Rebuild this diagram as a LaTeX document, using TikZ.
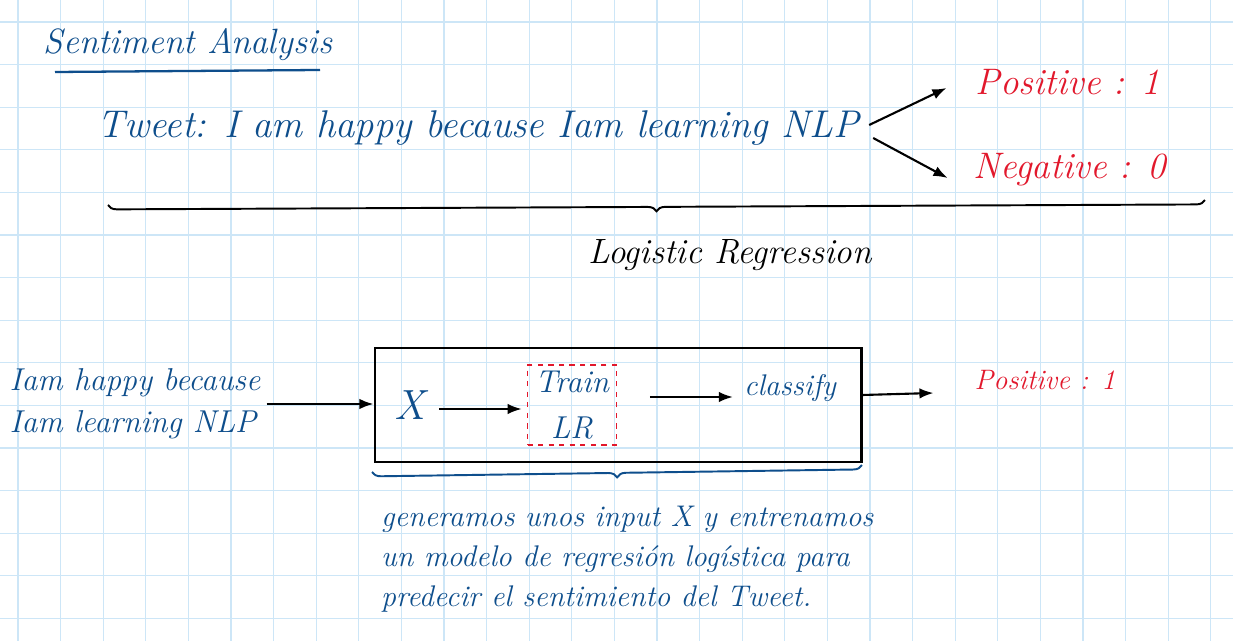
\documentclass[tikz,border=0pt]{standalone}
\usepackage{fontspec}
\usepackage{tikz}
\usetikzlibrary{arrows.meta, positioning, decorations.pathreplacing}
\definecolor{inkblue}{RGB}{14,78,140}
\definecolor{inkred}{RGB}{226,24,44}
\definecolor{gridblue}{RGB}{205,230,247}
\tikzset{>={Latex[length=8pt,width=6pt]}}
\tikzset{
  hand/.style n args={2}{font=\fontsize{#1}{#2}\selectfont\itshape},
  blueink/.style={text=inkblue},
  redink/.style={text=inkred},
  pen/.style={line width=1.2pt, black},
  flow/.style={pen, ->},
  curly/.style={decorate, decoration={brace, mirror, amplitude=#1}, line width=1.1pt},
}

\begin{document}
\begin{tikzpicture}[x=0.02cm, y=-0.02cm]
  % squared paper
  \fill[white] (0,0) rectangle (1233,641);
  \useasboundingbox (0,0) rectangle (1233,641);
  \foreach \k in {0,...,28}
    \draw[gridblue, line width=0.6pt] ({18+42.6*\k},0) -- ({18+42.6*\k},641);
  \foreach \k in {0,...,14}
    \draw[gridblue, line width=0.6pt] (0,{22+42.6*\k}) -- (1233,{22+42.6*\k});

  % the task
  \node[blueink, hand={20}{24}] (title) at (188,45) {Sentiment Analysis};
  \draw[inkblue, line width=1.3pt] (55,72) -- (320,70);
  \node[blueink, hand={22}{26}] (tweet) at (478,128) {Tweet: I am happy because Iam learning NLP};
  \node[redink, hand={21}{25}] (pos) at (1068,82) {Positive : 1};
  \node[redink, hand={21}{25}] (neg) at (1070,170) {Negative : 0};
  \draw[flow] ([shift={(4,-3)}]tweet.east) -- ([shift={(-23,6)}]pos.west);
  \draw[flow] ([shift={(8,10)}]tweet.east) -- ([shift={(-20,8)}]neg.west);
  \draw[curly=5pt] (108,205) -- (1205,200);
  \node[hand={20}{24}] (method) at (730,255) {Logistic Regression};

  % the model
  \node[blueink, hand={18}{24}, align=left] (input) at (135,404) {Iam happy because\\Iam learning NLP};
  \node[draw, pen, minimum width=9.74cm, minimum height=2.28cm] (lrbox) at (618,405) {};
  \node[blueink, hand={24}{28}] (x) at (410,405) {X};
  \node[draw=inkred, dashed, line width=0.9pt, blueink, hand={18}{26}, align=center,
        minimum width=1.78cm, minimum height=1.6cm] (train) at (572,405) {Train\\LR};
  \node[blueink, hand={17}{20}] (classify) at (790,388) {classify};
  \node[redink, hand={16}{20}] (out) at (1045,380) {Positive : 1};
  \draw[flow] (input.east) -- (lrbox.west |- input.east);
  \draw[flow] ([xshift=0.15cm]x.east |- 0,409) -- ([xshift=-0.1cm]train.west |- 0,409);
  \draw[flow] ([xshift=0.65cm]train.east |- 0,397) -- ([xshift=-0.1cm]classify.west |- 0,397);
  \draw[flow] (lrbox.east |- 0,395) -- ([xshift=-0.7cm]out.west |- 0,393);

  % note
  \draw[curly=5pt, inkblue] (372,472) -- (862,465);
  \node[blueink, hand={17}{22.7}, align=left, anchor=north west] (note) at (375,500)
    {generamos unos input X y entrenamos\\un modelo de regresión logística para\\predecir el sentimiento del Tweet.};
\end{tikzpicture}
\end{document}
